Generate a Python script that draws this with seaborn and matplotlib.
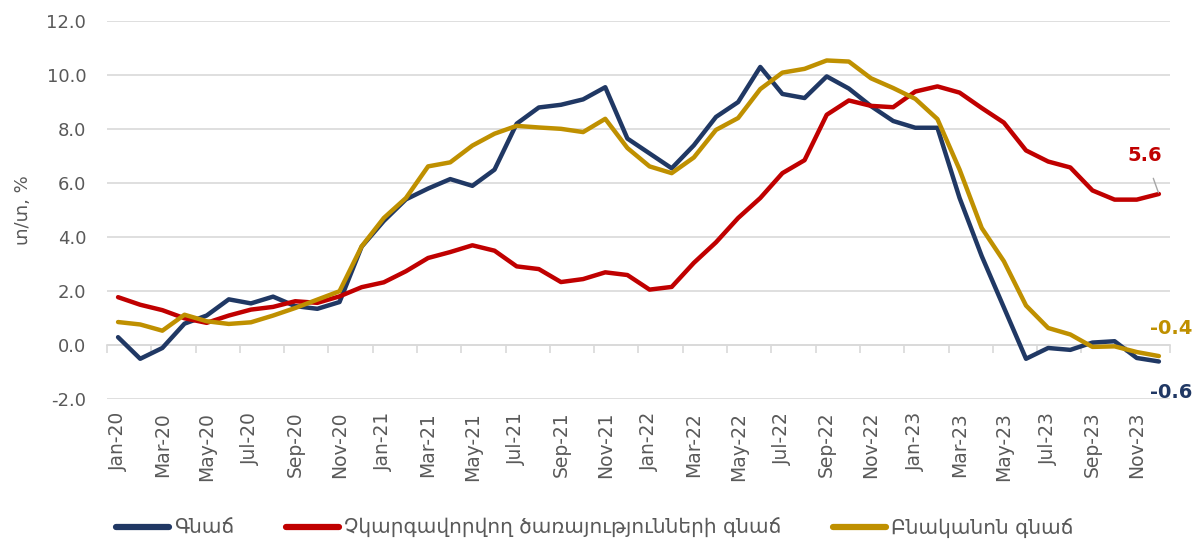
import pandas as pd
import matplotlib
matplotlib.use("Agg")
import matplotlib.pyplot as plt
import seaborn as sns

# months Jan-20 .. Dec-23
months = pd.date_range("2020-01-01", periods=48, freq="MS").strftime("%b-%y").tolist()

headline = [0.3, -0.5, -0.1, 0.8, 1.1, 1.7, 1.55, 1.8, 1.45, 1.35, 1.6, 3.65,
            4.6, 5.4, 5.8, 6.15, 5.9, 6.5, 8.2, 8.8, 8.9, 9.1, 9.55, 7.65,
            7.1, 6.55, 7.4, 8.45, 9.0, 10.3, 9.3, 9.15, 9.95, 9.5, 8.85, 8.3,
            8.05, 8.05, 5.45, 3.3, 1.4, -0.5, -0.1, -0.17, 0.1, 0.15, -0.47, -0.6]

services = [1.78, 1.5, 1.3, 1.0, 0.83, 1.1, 1.32, 1.42, 1.63, 1.57, 1.81, 2.15,
            2.33, 2.74, 3.23, 3.45, 3.7, 3.5, 2.92, 2.82, 2.34, 2.45, 2.7, 2.6,
            2.06, 2.16, 3.05, 3.81, 4.71, 5.45, 6.37, 6.85, 8.53, 9.06, 8.86, 8.81,
            9.39, 9.58, 9.35, 8.78, 8.24, 7.21, 6.8, 6.58, 5.73, 5.39, 5.39, 5.6]

core = [0.86, 0.77, 0.54, 1.13, 0.89, 0.79, 0.85, 1.1, 1.38, 1.69, 2.0, 3.66,
        4.71, 5.45, 6.62, 6.77, 7.39, 7.83, 8.12, 8.06, 8.01, 7.89, 8.38, 7.3,
        6.62, 6.37, 6.95, 7.97, 8.41, 9.48, 10.09, 10.23, 10.54, 10.5, 9.88, 9.52,
        9.12, 8.37, 6.5, 4.34, 3.11, 1.47, 0.64, 0.4, -0.06, -0.04, -0.25, -0.4]

names = ["Գնաճ", "Չկարգավորվող ծառայությունների գնաճ", "Բնականոն գնաճ"]
colors = ["#203864", "#C00000", "#BF9000"]
ylabel = "տ/տ, %"

df = pd.DataFrame({"idx": list(range(len(months))) * 3,
                   "value": headline + services + core,
                   "series": [names[0]] * 48 + [names[1]] * 48 + [names[2]] * 48})

sns.set_theme(style="white")
plt.rcParams["font.family"] = ["DejaVu Sans"]

fig = plt.figure(figsize=(11.98, 5.43), dpi=100)
ax = fig.add_axes([0.0893, 0.2646, 0.8873, 0.6967])

sns.lineplot(data=df, x="idx", y="value", hue="series", palette=dict(zip(names, colors)),
             linewidth=3.2, ax=ax, legend=True)

grey = "#d9d9d9"
ax.set_ylim(-2, 12)
ax.set_yticks(range(-2, 13, 2))
ax.set_yticklabels([f"{v:.1f}" for v in range(-2, 13, 2)])
ax.yaxis.grid(True, color=grey, linewidth=1.2)
ax.set_axisbelow(True)
ax.set_xlim(-0.5, len(months) - 0.5)
ax.set_xticks(range(0, len(months), 2))
ax.set_xticklabels(months[::2], rotation=90)
for s in ax.spines.values():
    s.set_visible(False)
ax.tick_params(axis="both", length=0, colors="#595959", labelsize=13)
ax.tick_params(axis="y", pad=15)
ax.tick_params(axis="x", pad=9, labelsize=13.5)
ax.set_xlabel("")
ax.set_ylabel(ylabel, fontsize=13, color="#595959", labelpad=10)

# axis line at zero with boundary tick marks
sec = ax.secondary_xaxis(2 / 14)
sec.set_xticks([i - 0.5 for i in range(0, len(months) + 1, 2)])
sec.set_xticklabels([])
sec.tick_params(length=6, width=1.2, color=grey)
sec.spines["bottom"].set_color(grey)
sec.spines["bottom"].set_linewidth(1.2)

# end labels
ax.annotate(f"{services[-1]:.1f}", xy=(47, services[-1]), xytext=(-10, 28),
            textcoords="offset points", ha="center", va="center", fontsize=14,
            fontweight="bold", color=colors[1],
            arrowprops=dict(arrowstyle="-", color="#a6a6a6", lw=1, shrinkA=8, shrinkB=1))
ax.annotate(f"{core[-1]:.1f}", xy=(47, core[-1]), xytext=(9, 20),
            textcoords="offset points", ha="center", va="center", fontsize=14,
            fontweight="bold", color=colors[2], annotation_clip=False)
ax.annotate(f"{headline[-1]:.1f}", xy=(47, headline[-1]), xytext=(9, -22),
            textcoords="offset points", ha="center", va="center", fontsize=14,
            fontweight="bold", color=colors[0], annotation_clip=False)

handles, labels = ax.get_legend_handles_labels()
ax.get_legend().remove()
for h in handles:
    h.set_linewidth(4.5)
    h.set_solid_capstyle("round")
fig.legend(handles, labels, loc="center left", bbox_to_anchor=(0.082, 0.028), ncol=3,
           frameon=False, fontsize=14.5, handlelength=2.6, handletextpad=0.25,
           columnspacing=2.6, labelcolor="#595959")

fig.savefig("out.png", dpi=100)
